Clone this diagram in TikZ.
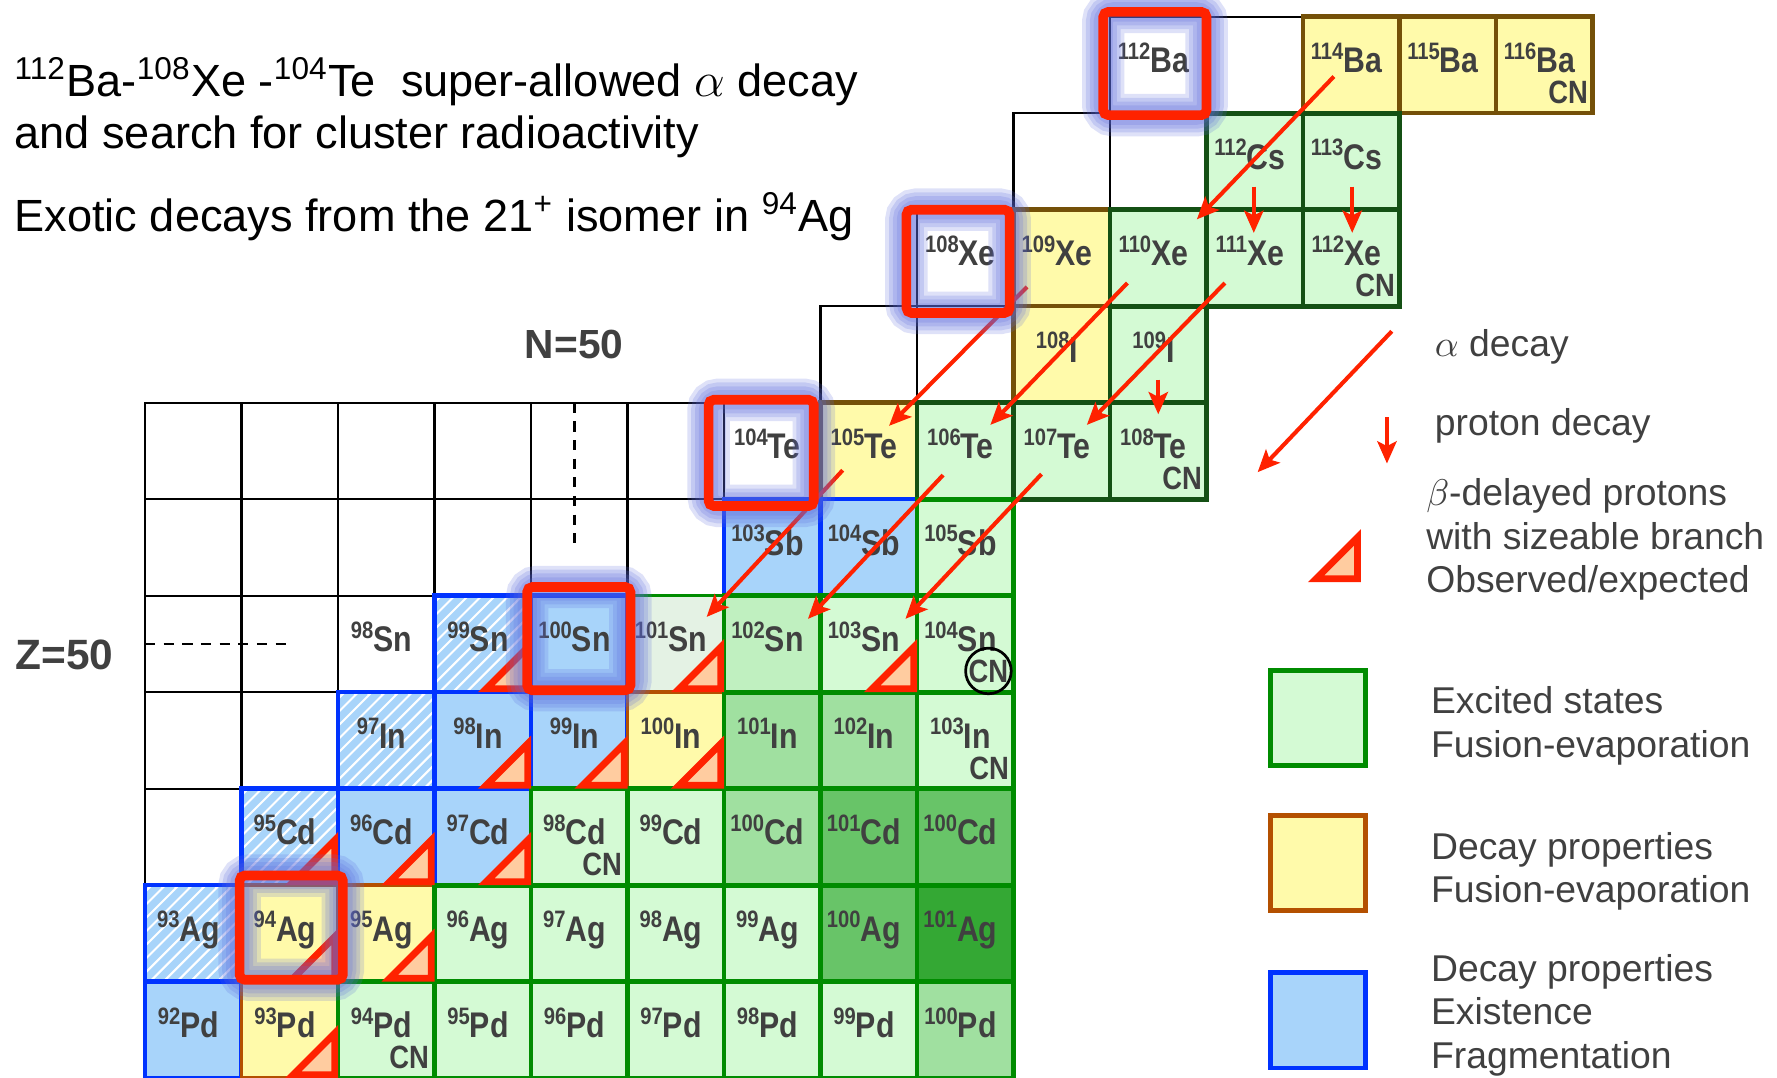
\documentclass[tikz,border=0pt]{standalone}
\usepackage{fontspec}
\setmainfont{Liberation Sans}
\newfontfamily\cellfont[FakeStretch=0.85]{Liberation Sans}
\usetikzlibrary{arrows.meta}
\definecolor{decayred}{RGB}{255,34,0}
\definecolor{exgreen}{RGB}{0,140,0}
\definecolor{exfill}{RGB}{212,250,212}
\definecolor{gtwo}{RGB}{192,240,192}
\definecolor{gthree}{RGB}{160,224,160}
\definecolor{gfour}{RGB}{104,196,104}
\definecolor{gfive}{RGB}{52,168,52}
\definecolor{palefill}{RGB}{228,242,228}
\definecolor{fusbrown}{RGB}{180,80,0}
\definecolor{fusfill}{RGB}{255,250,170}
\definecolor{fragblue}{RGB}{0,51,255}
\definecolor{fragfill}{RGB}{168,212,250}
\definecolor{trifill}{RGB}{255,204,160}
\definecolor{glowblue}{RGB}{90,105,220}
\definecolor{labgray}{RGB}{64,64,64}
\definecolor{upline}{RGB}{20,80,20}
\tikzset{cell/.style={minimum width=1cm,minimum height=1cm,inner sep=0pt,outer sep=0pt,text height=.58cm,text depth=.42cm,font=\cellfont\bfseries\fontsize{10.5}{12}\selectfont,text=labgray},
 blank/.style={cell,draw=black,line width=.7pt,fill=white},
 excited/.style={cell,draw=exgreen,line width=1.4pt,fill=exfill},
 upexcited/.style={excited,draw=upline},
 fusion/.style={cell,draw=fusbrown,line width=1pt,fill=fusfill},
 upfusion/.style={fusion,draw=upline!40!fusbrown,line width=1.3pt},
 frag/.style={cell,draw=fragblue,line width=1.3pt,fill=fragfill},
 hatched/.style={cell,draw=fragblue,line width=1.3pt,fill=white,path picture={\foreach \s in {-1,-.86,...,1} \draw[fragfill,line width=2.1pt] ([xshift=\s cm]path picture bounding box.south west) -- ++(1,1);}},
 cnlab/.style={font=\cellfont\bfseries\fontsize{9.5}{11}\selectfont,text=labgray,inner sep=0pt,anchor=base east},
 alphadecay/.style={draw=decayred,line width=1.2pt,-{Stealth[length=2.3mm,width=2mm,inset=.5mm]}},
 pdecay/.style={alphadecay},
 bdptri/.style={draw=decayred,line width=2pt,fill=trifill},
 hotline/.style={draw=decayred,line width=2.85pt,rounded corners=1.5pt},
 glow/.style={draw=glowblue,opacity=.2,rounded corners=3pt},
 title/.style={anchor=base west,inner sep=0pt,font=\fontsize{13.3}{16}\selectfont},
 magic/.style={inner sep=0pt,text=labgray,font=\bfseries\fontsize{12}{14}\selectfont},
 legtext/.style={font=\fontsize{11}{12.8}\selectfont,text=labgray,align=left,anchor=west,inner sep=0pt},
 legbox/.style={line width=1.4pt,minimum width=.99cm,minimum height=.99cm,inner sep=0pt}}
\newcommand\nuc[2]{\raisebox{3.9pt}{\fontsize{7}{8}\selectfont#1}#2\kern.1cm}
\newcommand\hotbox[3]{\foreach \w in {.44,.36,.28,.2} \draw[glow,line width=\w cm] ([shift={#2}]#1.north west) rectangle ([shift={#3}]#1.south east);
 \draw[hotline] ([shift={#2}]#1.north west) rectangle ([shift={#3}]#1.south east);}
\newcommand\bdp[1]{\draw[bdptri] ([shift={(-.035,.035)}]#1.south east) -- ++(-.43,0) -- ++(.43,.43) -- cycle;}
\begin{document}
\begin{tikzpicture}
\useasboundingbox (-1.503,.173) rectangle (16.912,-10.998);
\foreach \c in {0,...,5} {\node[blank] (blankTe\c) at (\c+.5,-4.5) {}; \node[blank] (blankSb\c) at (\c+.5,-5.5) {};}
\foreach \c in {0,1} {\node[blank] (blankSn\c) at (\c+.5,-6.5) {}; \node[blank] (blankIn\c) at (\c+.5,-7.5) {};}
\node[blank] (blankCd0) at (.5,-8.5) {};
\node[blank] (blankI7) at (7.5,-3.5) {};
\node[blank] (blankI8) at (8.5,-3.5) {};
\node[blank] (blankCs9) at (9.5,-1.5) {};
\node[blank] (blankCs10) at (10.5,-1.5) {};
\node[blank] (blankBa11) at (11.5,-.5) {};

\node[blank] (Ba112) at (10.5,-.5) {\nuc{112}{Ba}};
\node[upfusion] (Ba114) at (12.5,-.5) {\nuc{114}{Ba}};
\node[upfusion] (Ba115) at (13.5,-.5) {\nuc{115}{Ba}};
\node[upfusion] (Ba116) at (14.5,-.5) {\nuc{116}{Ba}};
\node[upexcited] (Cs112) at (11.5,-1.5) {\nuc{112}{Cs}};
\node[upexcited] (Cs113) at (12.5,-1.5) {\nuc{113}{Cs}};
\node[blank] (Xe108) at (8.5,-2.5) {\nuc{108}{Xe}};
\node[upfusion] (Xe109) at (9.5,-2.5) {\nuc{109}{Xe}};
\node[upexcited] (Xe110) at (10.5,-2.5) {\nuc{110}{Xe}};
\node[upexcited] (Xe111) at (11.5,-2.5) {\nuc{111}{Xe}};
\node[upexcited] (Xe112) at (12.5,-2.5) {\nuc{112}{Xe}};
\node[upfusion] (I108) at (9.5,-3.5) {\nuc{108}{I}};
\node[upexcited] (I109) at (10.5,-3.5) {\nuc{109}{I}};
\node[blank] (Te104) at (6.5,-4.5) {\nuc{104}{Te}};
\node[upfusion] (Te105) at (7.5,-4.5) {\nuc{105}{Te}};
\node[upexcited] (Te106) at (8.5,-4.5) {\nuc{106}{Te}};
\node[upexcited] (Te107) at (9.5,-4.5) {\nuc{107}{Te}};
\node[upexcited] (Te108) at (10.5,-4.5) {\nuc{108}{Te}};
\node[frag] (Sb103) at (6.5,-5.5) {\nuc{103}{Sb}};
\node[frag] (Sb104) at (7.5,-5.5) {\nuc{104}{Sb}};
\node[excited] (Sb105) at (8.5,-5.5) {\nuc{105}{Sb}};
\node[blank] (Sn98) at (2.5,-6.5) {\nuc{98}{Sn}};
\node[hatched] (Sn99) at (3.5,-6.5) {\nuc{99}{Sn}};
\node[frag] (Sn100) at (4.5,-6.5) {\nuc{100}{Sn}};
\node[excited,fill=palefill,line width=.8pt] (Sn101) at (5.5,-6.5) {\nuc{101}{Sn}};
\node[excited,fill=gtwo] (Sn102) at (6.5,-6.5) {\nuc{102}{Sn}};
\node[excited] (Sn103) at (7.5,-6.5) {\nuc{103}{Sn}};
\node[excited] (Sn104) at (8.5,-6.5) {\nuc{104}{Sn}};
\node[hatched] (In97) at (2.5,-7.5) {\nuc{97}{In}};
\node[frag] (In98) at (3.5,-7.5) {\nuc{98}{In}};
\node[frag] (In99) at (4.5,-7.5) {\nuc{99}{In}};
\node[fusion] (In100) at (5.5,-7.5) {\nuc{100}{In}};
\node[excited,fill=gthree] (In101) at (6.5,-7.5) {\nuc{101}{In}};
\node[excited,fill=gthree] (In102) at (7.5,-7.5) {\nuc{102}{In}};
\node[excited] (In103) at (8.5,-7.5) {\nuc{103}{In}};
\node[hatched] (Cd95) at (1.5,-8.5) {\nuc{95}{Cd}};
\node[frag] (Cd96) at (2.5,-8.5) {\nuc{96}{Cd}};
\node[frag] (Cd97) at (3.5,-8.5) {\nuc{97}{Cd}};
\node[excited] (Cd98) at (4.5,-8.5) {\nuc{98}{Cd}};
\node[excited] (Cd99) at (5.5,-8.5) {\nuc{99}{Cd}};
\node[excited,fill=gthree] (Cd100) at (6.5,-8.5) {\nuc{100}{Cd}};
\node[excited,fill=gfour] (Cd101) at (7.5,-8.5) {\nuc{101}{Cd}};
\node[excited,fill=gfour] (Cd102) at (8.5,-8.5) {\nuc{100}{Cd}};
\node[hatched] (Ag93) at (.5,-9.5) {\nuc{93}{Ag}};
\node[fusion] (Ag94) at (1.5,-9.5) {\nuc{94}{Ag}};
\node[fusion] (Ag95) at (2.5,-9.5) {\nuc{95}{Ag}};
\node[excited] (Ag96) at (3.5,-9.5) {\nuc{96}{Ag}};
\node[excited] (Ag97) at (4.5,-9.5) {\nuc{97}{Ag}};
\node[excited] (Ag98) at (5.5,-9.5) {\nuc{98}{Ag}};
\node[excited] (Ag99) at (6.5,-9.5) {\nuc{99}{Ag}};
\node[excited,fill=gfour] (Ag100) at (7.5,-9.5) {\nuc{100}{Ag}};
\node[excited,fill=gfive] (Ag101) at (8.5,-9.5) {\nuc{101}{Ag}};
\node[frag] (Pd92) at (.5,-10.5) {\nuc{92}{Pd}};
\node[fusion] (Pd93) at (1.5,-10.5) {\nuc{93}{Pd}};
\node[excited] (Pd94) at (2.5,-10.5) {\nuc{94}{Pd}};
\node[excited] (Pd95) at (3.5,-10.5) {\nuc{95}{Pd}};
\node[excited] (Pd96) at (4.5,-10.5) {\nuc{96}{Pd}};
\node[excited] (Pd97) at (5.5,-10.5) {\nuc{97}{Pd}};
\node[excited] (Pd98) at (6.5,-10.5) {\nuc{98}{Pd}};
\node[excited] (Pd99) at (7.5,-10.5) {\nuc{99}{Pd}};
\node[excited,fill=gthree] (Pd100) at (8.5,-10.5) {\nuc{100}{Pd}};

\node[cnlab] (cnBa116) at ([shift={(-.04,.1)}]Ba116.south east) {CN};
\node[cnlab] (cnXe112) at ([shift={(-.04,.1)}]Xe112.south east) {CN};
\node[cnlab] (cnTe108) at ([shift={(-.04,.1)}]Te108.south east) {CN};
\node[cnlab] (cnIn103) at ([shift={(-.04,.1)}]In103.south east) {CN};
\node[cnlab] (cnCd98) at ([shift={(-.05,.1)}]Cd98.south east) {CN};
\node[cnlab] (cnPd94) at ([shift={(-.05,.1)}]Pd94.south east) {CN};
\node[cnlab,anchor=center,circle,draw=black,line width=.8pt,minimum size=.42cm] (cnSn104) at ([shift={(.74,-.78)}]Sn104.north west) {CN};

\draw[dashed,line width=.7pt,dash pattern=on 3pt off 2.5pt] (4.45,-4) -- (4.45,-5.5);
\draw[dashed,line width=.7pt,dash pattern=on 3pt off 2.5pt] (0,-6.5) -- (1.52,-6.5);

\bdp{Sn99} \bdp{Sn101} \bdp{Sn103} \bdp{In98} \bdp{In99} \bdp{In100}
\bdp{Cd95} \bdp{Cd96} \bdp{Cd97} \bdp{Ag94} \bdp{Ag95} \bdp{Pd93}

\draw[alphadecay] ([shift={(.32,-.62)}]Ba114.north west) -- ([shift={(.9,-.1)}]Xe110.north west);
\draw[alphadecay] ([shift={(.14,-.8)}]Xe109.north west) -- ([shift={(.71,-.24)}]Te105.north west);
\draw[alphadecay] ([shift={(.18,-.76)}]Xe110.north west) -- ([shift={(.76,-.23)}]Te106.north west);
\draw[alphadecay] ([shift={(.19,-.76)}]Xe111.north west) -- ([shift={(.76,-.23)}]Te107.north west);
\draw[alphadecay] ([shift={(.23,-.7)}]Te105.north west) -- ([shift={(.82,-.22)}]Sn101.north west);
\draw[alphadecay] ([shift={(.27,-.75)}]Te106.north west) -- ([shift={(.87,-.24)}]Sn102.north west);
\draw[alphadecay] ([shift={(.29,-.74)}]Te107.north west) -- ([shift={(.88,-.24)}]Sn103.north west);
\draw[pdecay] ([shift={(.49,-.76)}]Cs112.north west) -- ([shift={(.49,-.24)}]Xe111.north west);
\draw[pdecay] ([shift={(.51,-.76)}]Cs113.north west) -- ([shift={(.51,-.24)}]Xe112.north west);
\draw[pdecay] ([shift={(.5,-.76)}]I109.north west) -- ([shift={(.5,-.12)}]Te108.north west);

\hotbox{Ba112}{(-.07,.05)}{(0,-.02)}
\hotbox{Xe108}{(-.11,0)}{(-.04,-.07)}
\hotbox{Te104}{(-.16,.03)}{(-.07,-.07)}
\hotbox{Sn100}{(-.04,.09)}{(.03,.02)}
\hotbox{Ag94}{(-.02,.1)}{(.05,.02)}

\node[title] (titleone) at (-1.358,-.832) {\textsuperscript{112}Ba-\textsuperscript{108}Xe -\textsuperscript{104}Te\ \ super-allowed $\alpha$ decay};
\node[title] (titletwo) at (-1.358,-1.361) {and search for cluster radioactivity};
\node[title] (titlethree) at (-1.358,-2.231) {Exotic decays from the 21\textsuperscript{+} isomer in \textsuperscript{94}Ag};
\node[magic,anchor=base] (nfifty) at (4.446,-3.547) {N=50};
\node[magic,anchor=base west,font=\bfseries\fontsize{12.5}{14}\selectfont] (zfifty) at (-1.35,-6.77) {Z=50};

\coordinate (alphafrom) at (12.92,-3.26);
\coordinate (alphato) at (11.53,-4.72);
\draw[alphadecay] (alphafrom) -- (alphato);
\coordinate (pfrom) at (12.87,-4.15);
\coordinate (pto) at (12.87,-4.63);
\draw[pdecay] (pfrom) -- (pto);
\draw[bdptri] (12.565,-5.825) -- ++(-.43,0) -- ++(.43,.43) -- cycle;
\node[legtext] (legalpha) at (13.36,-3.423) {$\alpha$ decay};
\node[legtext] (legp) at (13.36,-4.24) {proton decay};
\node[legtext] (legbdp) at (13.27,-5.42) {$\beta$-delayed protons\\with sizeable branch\\Observed/expected};
\node[legbox,draw=exgreen,fill=exfill] (legexc) at (12.155,-7.267) {};
\node[legbox,draw=fusbrown,fill=fusfill] (legfus) at (12.155,-8.77) {};
\node[legbox,draw=fragblue,fill=fragfill] (legfrag) at (12.155,-10.40) {};
\node[legtext] (legexct) at (13.32,-7.35) {Excited states\\Fusion-evaporation};
\node[legtext] (legfust) at (13.32,-8.858) {Decay properties\\Fusion-evaporation};
\node[legtext] (legfragt) at (13.32,-10.345) {Decay properties\\Existence\\Fragmentation};
\end{tikzpicture}
\end{document}
